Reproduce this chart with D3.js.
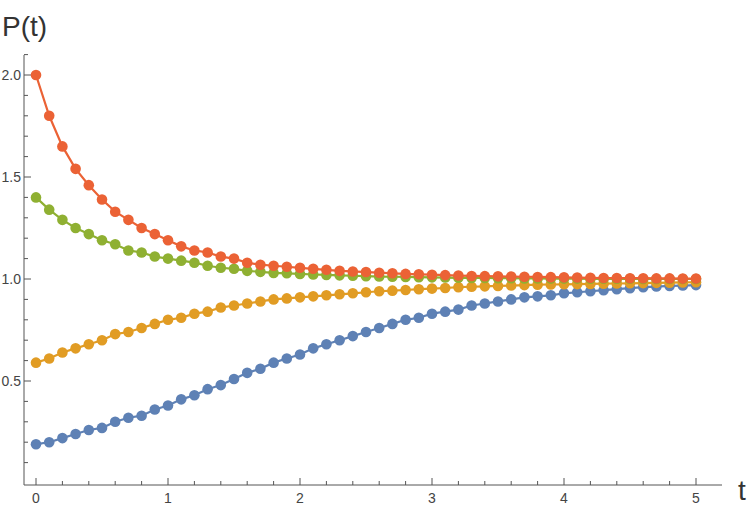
<!DOCTYPE html>
<html><head><meta charset="utf-8">
<script src="https://cdn.jsdelivr.net/npm/d3@7"></script>
<style>body{margin:0;background:#fff}text{font-family:"Liberation Sans",Arial,sans-serif}</style>
</head><body><svg id="chart"></svg>
<script>
const tValues = d3.range(51).map(i => i / 10);
const blue = [0.19,0.20,0.22,0.24,0.26,0.27,0.30,0.32,0.33,0.36,0.38,0.41,0.43,0.46,0.48,0.51,0.54,
  0.56,0.59,0.61,0.63,0.66,0.68,0.70,0.72,0.74,0.76,0.78,0.80,0.81,0.83,0.84,0.85,0.87,0.88,0.89,0.90,
  0.91,0.915,0.92,0.93,0.935,0.94,0.945,0.95,0.955,0.96,0.963,0.966,0.968,0.97];
const orange = [0.59,0.61,0.64,0.66,0.68,0.70,0.73,0.74,0.76,0.78,0.80,0.81,0.83,0.84,0.86,0.87,0.88,0.89,
  0.90,0.905,0.91,0.915,0.92,0.925,0.93,0.935,0.94,0.943,0.946,0.95,0.953,0.956,0.96,0.962,0.964,0.966,
  0.968,0.97,0.972,0.973,0.974,0.975,0.976,0.977,0.978,0.979,0.98,0.981,0.982,0.983,0.984];
const green = [1.40,1.34,1.29,1.25,1.22,1.19,1.17,1.14,1.13,1.11,1.10,1.09,1.08,1.065,1.055,1.05,1.04,1.035,
  1.03,1.028,1.025,1.022,1.02,1.018,1.016,1.014,1.012,1.011,1.01,1.009,1.008,1.007,1.006,1.005,1.005,
  1.004,1.004,1.003,1.003,1.002,1.002,1.002,1.001,1.001,1.001,1.001,1.0,1.0,1.0,1.0,1.0];
const red = [2.00,1.80,1.65,1.54,1.46,1.39,1.33,1.29,1.25,1.22,1.19,1.16,1.14,1.13,1.11,1.10,1.08,1.07,
  1.065,1.06,1.055,1.05,1.045,1.04,1.037,1.034,1.031,1.028,1.025,1.023,1.021,1.019,1.017,1.015,1.014,
  1.013,1.012,1.011,1.01,1.009,1.008,1.007,1.006,1.005,1.005,1.004,1.004,1.003,1.003,1.002,1.002];
const seriesList = [
  { values: blue, color: "#5e81b5" },
  { values: orange, color: "#e19c24" },
  { values: green, color: "#8fb032" },
  { values: red, color: "#eb6235" }
];
const xTicks = [0, 1, 2, 3, 4, 5];
const yTicks = [0.5, 1.0, 1.5, 2.0];

const W = 750, H = 518;
const svg = d3.select("#chart").attr("width", W).attr("height", H);
const x = d3.scaleLinear().domain([0, 5]).range([36, 696]);
const y = d3.scaleLinear().domain([0, 2]).range([483, 75]);
const axisColor = "#555";

// x axis
const xAxisY = 485;
svg.append("line").attr("x1", 24).attr("x2", 722).attr("y1", xAxisY).attr("y2", xAxisY).attr("stroke", axisColor);
d3.range(-0.0, 5.2, 0.2).forEach(v => {
  const major = Math.abs(v - Math.round(v)) < 1e-6;
  svg.append("line").attr("x1", x(v)).attr("x2", x(v)).attr("y1", xAxisY).attr("y2", xAxisY - (major ? 7 : 4)).attr("stroke", axisColor);
});
xTicks.forEach(v => svg.append("text").attr("x", x(v)).attr("y", xAxisY + 18).attr("text-anchor", "middle")
  .attr("font-size", 14).attr("fill", "#444").text(v));
svg.append("text").attr("x", 738).attr("y", 500).attr("font-size", 28).attr("fill", "#333").text("t");

// y axis
const yAxisX = 24;
svg.append("line").attr("x1", yAxisX).attr("x2", yAxisX).attr("y1", 55).attr("y2", xAxisY).attr("stroke", axisColor);
d3.range(0.1, 2.11, 0.1).forEach(v => {
  const major = Math.abs(v * 2 - Math.round(v * 2)) < 1e-6;
  svg.append("line").attr("x1", yAxisX).attr("x2", yAxisX + (major ? 7 : 4)).attr("y1", y(v)).attr("y2", y(v)).attr("stroke", axisColor);
});
yTicks.forEach(v => svg.append("text").attr("x", yAxisX - 3).attr("y", y(v) + 5).attr("text-anchor", "end")
  .attr("font-size", 14).attr("fill", "#444").text(v.toFixed(1)));
svg.append("text").attr("x", 2).attr("y", 36).attr("font-size", 28).attr("fill", "#333").text("P(t)");

// series
const line = d3.line().x((d, i) => x(tValues[i])).y(d => y(d));
seriesList.forEach(s => {
  svg.append("path").datum(s.values).attr("d", line).attr("fill", "none").attr("stroke", s.color).attr("stroke-width", 2.2);
  svg.append("g").selectAll("circle").data(s.values).join("circle")
    .attr("cx", (d, i) => x(tValues[i])).attr("cy", d => y(d)).attr("r", 5.3).attr("fill", s.color);
});
</script></body></html>
